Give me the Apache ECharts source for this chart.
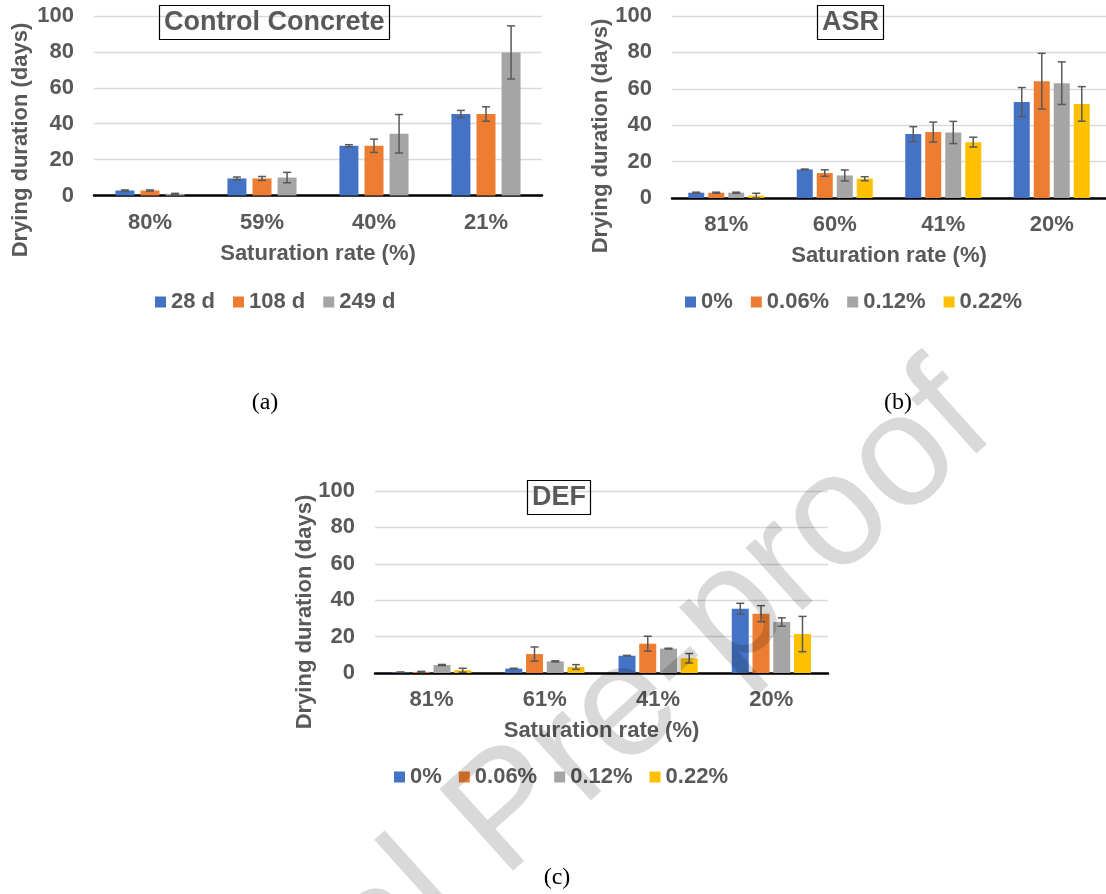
<!DOCTYPE html>
<html><head><meta charset="utf-8">
<script src="https://cdn.jsdelivr.net/npm/echarts@6/dist/echarts.min.js"></script>
<style>html,body{margin:0;padding:0;background:#fff}#c{width:1106px;height:894px}</style>
</head><body><div id="c"></div>
<script>
// ---------- Data ----------
const catsA = ['80%', '59%', '40%', '21%'];
const namesA = ['28 d', '108 d', '249 d'];
const valsA_28 = [2.8, 9.5, 27.7, 45.4];
const errA_28 = [0.3, 0.8, 0.6, 2.0];
const valsA_108 = [2.8, 9.5, 27.7, 45.4];
const errA_108 = [0.3, 1.1, 3.7, 4.0];
const valsA_249 = [0.9, 10.0, 34.4, 79.7];
const errA_249 = [0.3, 2.9, 10.7, 14.8];

const catsB = ['81%', '60%', '41%', '20%'];
const namesB = ['0%', '0.06%', '0.12%', '0.22%'];
const valsB_0 = [2.9, 15.7, 35.1, 52.7];
const errB_0 = [0.3, 0.2, 4.1, 8.0];
const valsB_006 = [2.9, 13.7, 36.2, 64.2];
const errB_006 = [0.3, 1.8, 5.5, 15.3];
const valsB_012 = [2.9, 12.4, 36.0, 63.1];
const errB_012 = [0.3, 3.0, 6.1, 11.7];
const valsB_022 = [1.3, 10.6, 30.7, 51.7];
const errB_022 = [1.3, 1.1, 2.7, 9.5];

const catsC = ['81%', '61%', '41%', '20%'];
const namesC = ['0%', '0.06%', '0.12%', '0.22%'];
const valsC_0 = [0.4, 2.4, 9.5, 35.3];
const errC_0 = [0.1, 0.2, 0.2, 3.0];
const valsC_006 = [0.6, 10.4, 16.1, 32.6];
const errC_006 = [0.3, 3.9, 4.1, 4.4];
const valsC_012 = [4.4, 6.4, 13.4, 28.0];
const errC_012 = [0.3, 0.3, 0.2, 2.3];
const valsC_022 = [1.5, 3.3, 8.1, 21.4];
const errC_022 = [1.1, 1.3, 2.6, 9.7];

const yTicks = [0, 20, 40, 60, 80, 100];

// ---------- Styles ----------
const COLORS = ['#4472C4', '#ED7D31', '#A5A5A5', '#FFC000'];
const TXT = '#595959';
const FONT = 'Liberation Sans, Arial, sans-serif';

const chart = echarts.init(document.getElementById('c'), null, {renderer: 'canvas'});

const grids = [
  {left: 94, top: 16, width: 448, height: 179.5},
  {left: 672, top: 16, width: 441, height: 182},
  {left: 375, top: 491, width: 453, height: 182}
];
const cats = [catsA, catsB, catsC];

function xAxis(i) {
  return {
    type: 'category', gridIndex: i, data: cats[i],
    axisLine: {lineStyle: {color: '#000', width: 2.5}},
    axisTick: {show: false},
    axisLabel: {color: TXT, fontSize: 22, fontWeight: 'bold', fontFamily: FONT, margin: 16},
    name: 'Saturation rate (%)', nameLocation: 'middle', nameGap: 47,
    nameTextStyle: {color: TXT, fontSize: 22, fontWeight: 'bold', fontFamily: FONT}
  };
}
function yAxis(i) {
  return {
    type: 'value', gridIndex: i, min: yTicks[0], max: yTicks[yTicks.length - 1], interval: 20,
    axisLine: {show: false}, axisTick: {show: false},
    axisLabel: {color: TXT, fontSize: 22, fontWeight: 'bold', fontFamily: FONT, margin: 20},
    splitLine: {lineStyle: {color: '#d9d9d9', width: 1.3}}
  };
}

const series = [];
function addGroup(gi, names, valsList, errList, bw, gapRatio) {
  const n = names.length;
  names.forEach((nm, idx) => {
    series.push({
      type: 'bar', name: nm, xAxisIndex: gi, yAxisIndex: gi,
      data: valsList[idx], barWidth: bw, barGap: (gapRatio * 100) + '%',
      itemStyle: {color: COLORS[idx]}, z: 2
    });
  });
  names.forEach((nm, idx) => {
    const vals = valsList[idx], errs = errList[idx];
    series.push({
      type: 'custom', xAxisIndex: gi, yAxisIndex: gi, silent: true, z: 5,
      data: vals.map((v, k) => [k, v, errs[k]]),
      encode: {x: 0, y: 1},
      renderItem: function (params, api) {
        const k = api.value(0), v = api.value(1), e = api.value(2);
        const pitch = bw * (1 + gapRatio);
        const off = (idx - (n - 1) / 2) * pitch;
        const top = api.coord([k, v + e]);
        const bot = api.coord([k, Math.max(v - e, 0)]);
        const x = top[0] + off, cw = 4;
        const st = {stroke: '#595959', lineWidth: 1.5};
        return {type: 'group', children: [
          {type: 'line', shape: {x1: x, y1: top[1], x2: x, y2: bot[1]}, style: st},
          {type: 'line', shape: {x1: x - cw, y1: top[1], x2: x + cw, y2: top[1]}, style: st},
          {type: 'line', shape: {x1: x - cw, y1: bot[1], x2: x + cw, y2: bot[1]}, style: st}
        ]};
      }
    });
  });
}
addGroup(0, namesA, [valsA_28, valsA_108, valsA_249], [errA_28, errA_108, errA_249], 19, 0.32);
addGroup(1, namesB, [valsB_0, valsB_006, valsB_012, valsB_022], [errB_0, errB_006, errB_012, errB_022], 16, 0.25);
addGroup(2, namesC, [valsC_0, valsC_006, valsC_012, valsC_022], [errC_0, errC_006, errC_012, errC_022], 17, 0.22);

function legend(data, left, top, gap) {
  return {
    data: data, left: left, top: top, padding: 0, itemWidth: 11, itemHeight: 11, itemGap: gap, itemTextGap: 6,
    icon: 'rect', selectedMode: false,
    textStyle: {color: TXT, fontSize: 22, fontWeight: 'bold', fontFamily: FONT}
  };
}

function titleBox(text, left, top) {
  return {
    text: text, left: left, top: top, borderColor: '#000', borderWidth: 1.2,
    padding: [4, 5, 4, 5],
    textStyle: {color: TXT, fontSize: 27, fontWeight: 'bold', fontFamily: FONT, lineHeight: 27}
  };
}

function yName(x, y) {
  return {
    type: 'text', x: x, y: y, rotation: Math.PI / 2, z: 10,
    style: {text: 'Drying duration (days)', fill: TXT, font: 'bold 22px ' + FONT,
      textAlign: 'center', textVerticalAlign: 'middle'}
  };
}
function caption(text, x, y) {
  return {
    type: 'text', x: x, y: y, z: 10,
    style: {text: text, fill: '#000', font: '24px Liberation Serif, Times New Roman, serif',
      textAlign: 'center', textVerticalAlign: 'middle'}
  };
}

chart.setOption({
  animation: false,
  backgroundColor: '#fff',
  title: [
    titleBox('Control Concrete', 159, 5),
    titleBox('ASR', 817, 5),
    titleBox('DEF', 527, 480)
  ],
  legend: [
    legend(namesA, 155, 291, 18),
    legend(namesB, 685, 291, 18),
    legend(namesC, 394, 766, 17)
  ],
  grid: grids,
  xAxis: [xAxis(0), xAxis(1), xAxis(2)],
  yAxis: [yAxis(0), yAxis(1), yAxis(2)],
  series: series,
  graphic: [
    yName(21, 140),
    yName(601, 136),
    yName(305, 612),
    caption('(a)', 265, 403),
    caption('(b)', 898, 403),
    caption('(c)', 557, 878),
    {
      type: 'text', x: 510, y: 814, rotation: 42 * Math.PI / 180, z: 100, silent: true,
      style: {text: 'Journal Pre-proof', fill: 'rgba(0,0,0,0.15)',
        font: '160px Liberation Sans, Arial, sans-serif',
        textAlign: 'center', textVerticalAlign: 'middle'}
    }
  ]
});
</script>
</body></html>
